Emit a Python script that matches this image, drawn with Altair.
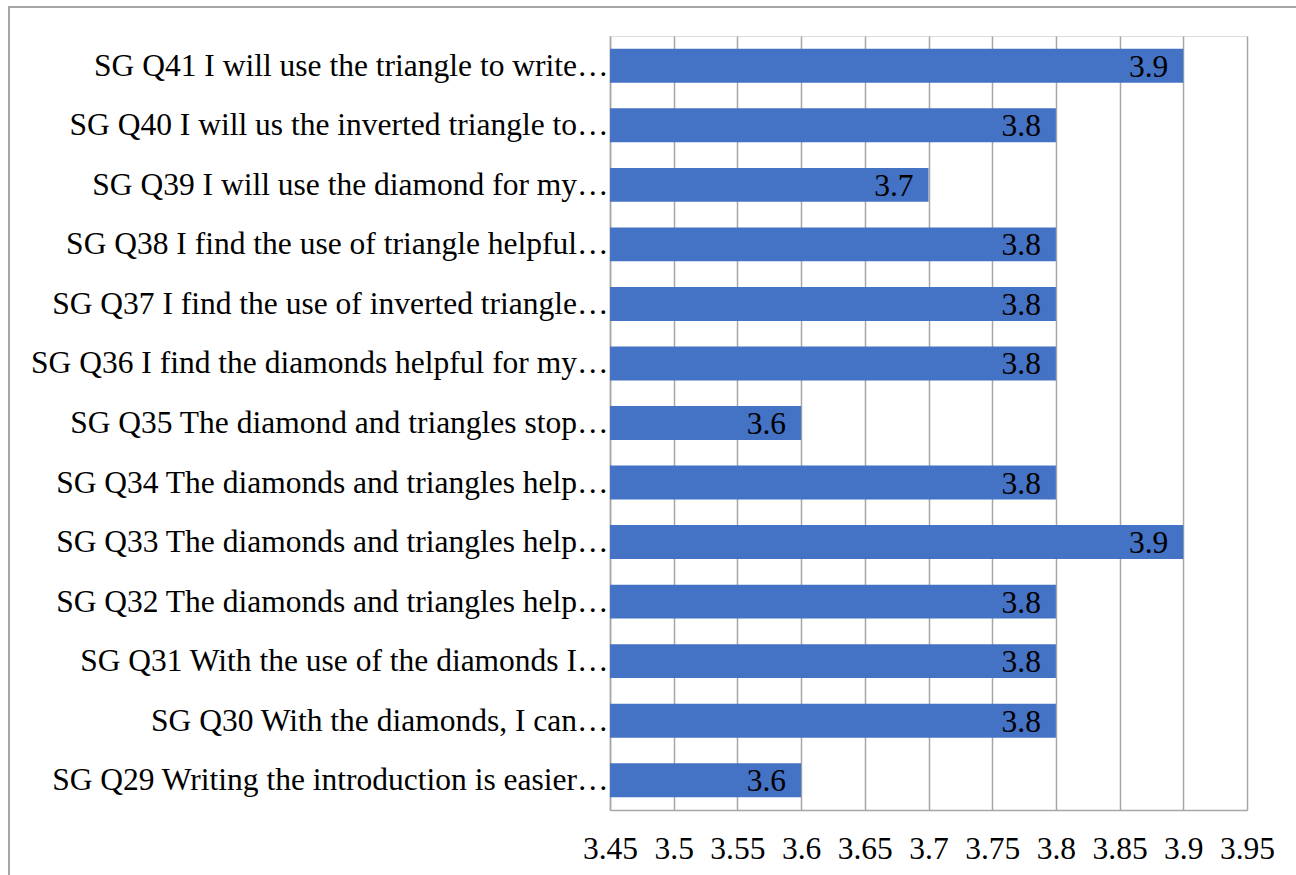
import altair as alt
import pandas as pd

categories = [
    "SG Q41 I will use the triangle to write…",
    "SG Q40 I will us the inverted triangle to…",
    "SG Q39 I will use the diamond for my…",
    "SG Q38 I find the use of triangle helpful…",
    "SG Q37 I find the use of inverted triangle…",
    "SG Q36 I find the diamonds helpful for my…",
    "SG Q35 The diamond and triangles stop…",
    "SG Q34 The diamonds and triangles help…",
    "SG Q33 The diamonds and triangles help…",
    "SG Q32 The diamonds and triangles help…",
    "SG Q31 With the use of the diamonds I…",
    "SG Q30 With the diamonds, I can…",
    "SG Q29 Writing the introduction is easier…",
]
values = [3.9, 3.8, 3.7, 3.8, 3.8, 3.8, 3.6, 3.8, 3.9, 3.8, 3.8, 3.8, 3.6]
x_ticks = [3.45, 3.5, 3.55, 3.6, 3.65, 3.7, 3.75, 3.8, 3.85, 3.9, 3.95]
x_min, x_max = 3.45, 3.95

df = pd.DataFrame({"cat": categories, "val": values, "base": [x_min] * len(values)})
df["lbl"] = df["val"].map(lambda v: f"{v:.1f}")

FONT = "Times New Roman, Liberation Serif, serif"
FS = 31.5

xscale = alt.Scale(domain=[x_min, x_max], nice=False, zero=False)
yscale = alt.Scale(domain=categories, paddingInner=0.43, paddingOuter=0.215)

border = alt.Chart(df).mark_rect(fill=None, stroke="#a6a6a6", strokeWidth=2).encode(
    x=alt.value(-601), x2=alt.value(800), y=alt.value(-29), y2=alt.value(900)
).transform_filter(alt.datum.cat == categories[0])

bars = alt.Chart(df).mark_bar(color="#4472C4").encode(
    x=alt.X("val:Q", scale=xscale,
            axis=alt.Axis(values=x_ticks, title=None, grid=True, gridColor="#a6a6a6",
                          gridWidth=1.5, domainColor="#a6a6a6", domainWidth=1.5,
                          ticks=False, labelPadding=23, labelFont=FONT, labelFontSize=FS,
                          labelColor="#000000", labelFlush=False, labelOverlap=False,
                          labelExpr="format(datum.value, '.2~f')")),
    x2="base:Q",
    y=alt.Y("cat:N", scale=yscale, sort=categories,
            axis=alt.Axis(title=None, ticks=False, domain=True, domainColor="#a6a6a6",
                          domainWidth=1.5, labelPadding=2, labelOffset=1, labelFont=FONT,
                          labelFontSize=FS, labelColor="#000000", labelLimit=900)),
)

labels = alt.Chart(df).mark_text(align="right", baseline="middle", dx=-15, dy=2,
                                 font=FONT, fontSize=FS, color="#000000").encode(
    x=alt.X("val:Q", scale=xscale),
    y=alt.Y("cat:N", scale=yscale, sort=categories),
    text="lbl:N",
)

chart = alt.layer(border, bars, labels).properties(
    width=637, height=774,
    padding={"left": 610, "top": 36, "right": 49, "bottom": 65},
    autosize=alt.AutoSizeParams(type="none"),
).configure_view(stroke=None).configure(background="white")

chart.save("out.html", embed_options={"renderer": "svg", "actions": False})
